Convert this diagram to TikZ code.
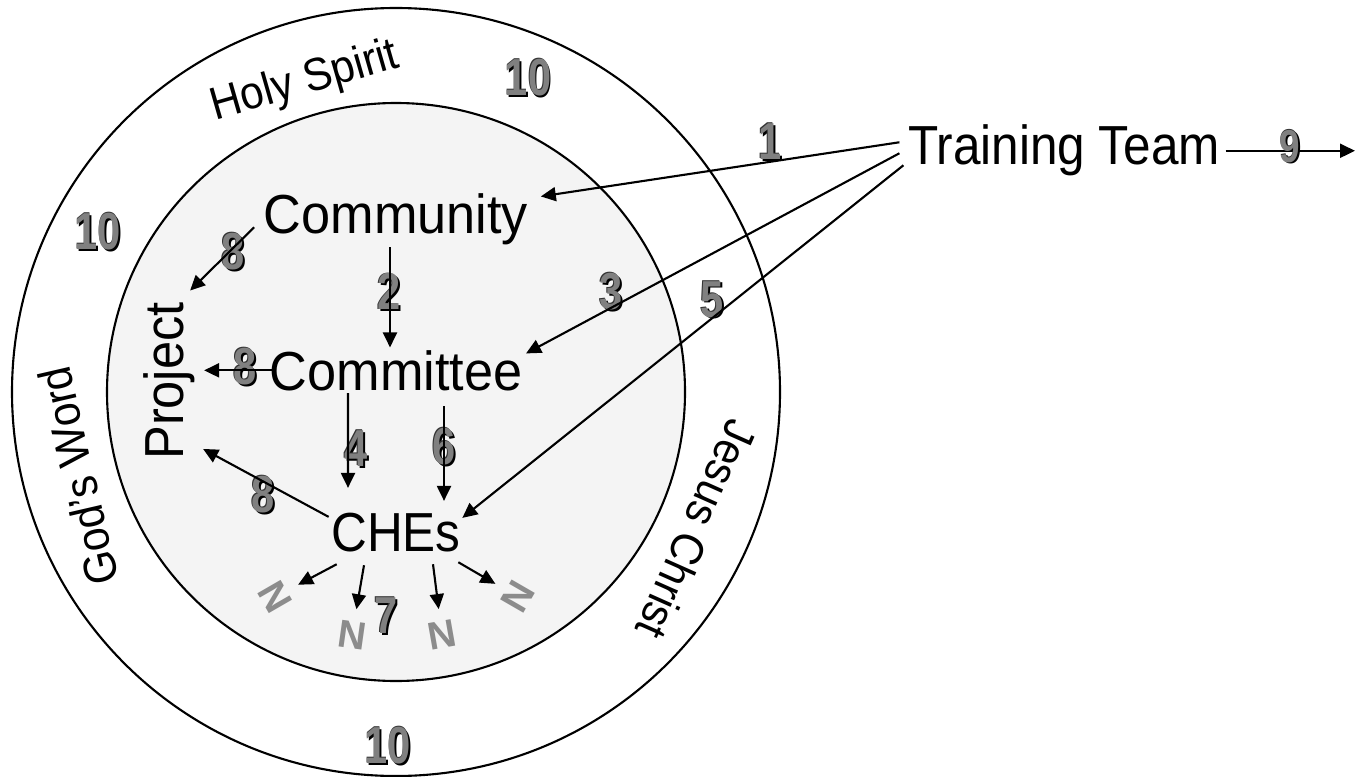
\documentclass[tikz,border=0pt]{standalone}
\usepackage{fontspec}
\setmainfont{Liberation Sans}
\usepackage{graphicx}
\usepackage{tikz}
\usetikzlibrary{arrows.meta, positioning}
\definecolor{innerfill}{HTML}{F4F4F4}
\definecolor{numgray}{HTML}{808080}
\definecolor{ngray}{HTML}{8C8C8C}
\tikzstyle{word} = [inner sep=0.02cm, font=\fontsize{15.65}{18}\selectfont]
\tikzstyle{ring} = [inner sep=0pt, font=\fontsize{13.1}{15}\selectfont]
\tikzstyle{num} = [inner sep=0pt, font=\fontsize{14.8}{17}\selectfont\bfseries]
\tikzstyle{smallnum} = [inner sep=0pt, font=\fontsize{13.1}{15}\selectfont\bfseries]
\tikzstyle{nnode} = [inner sep=0.12cm, text=ngray, font=\fontsize{11.1}{13}\selectfont\bfseries]
\tikzstyle{line} = [draw, line width=0.6pt, -{Triangle[length=0.15cm,width=0.14cm]}]
\newcommand{\stepnum}[1]{\scalebox{0.8}[1]{\rlap{\hspace{0.6pt}\raisebox{-0.45pt}{\color{black}#1}}\rlap{\hspace{-0.25pt}\raisebox{0.2pt}{\color{black!80}#1}}\color{numgray}#1}}
\newcommand{\narrowtext}[2]{\scalebox{#1}[1]{#2}}

\begin{document}
\begin{tikzpicture}
			\useasboundingbox (0,0) rectangle (13.66,7.76);
			\coordinate (c) at (3.96,3.84);
			\draw [line width=0.6pt] (c) circle (3.84);
			\draw [line width=0.6pt, fill=innerfill] (c) circle (2.89);

			\node [num] (t10a) at (5.28,6.98) {\stepnum{10}};
			\node [num] (t10b) at (0.98,5.44) {\stepnum{10}};
			\node [num] (t10c) at (3.88,0.30) {\stepnum{10}};
			\node [num] (n1) at (7.70,6.34) {\stepnum{1}};
			\node [num] (n2) at (3.89,4.84) {\stepnum{2}};
			\node [num] (n3) at (6.11,4.84) {\stepnum{3}};
			\node [num] (n4) at (3.56,3.27) {\stepnum{4}};
			\node [num] (n5) at (7.12,4.76) {\stepnum{5}};
			\node [num] (n6) at (4.44,3.29) {\stepnum{6}};
			\node [num] (n7) at (3.86,1.60) {\stepnum{7}};
			\node [num] (n8a) at (2.33,5.24) {\stepnum{8}};
			\node [num] (n8b) at (2.45,4.09) {\stepnum{8}};
			\node [num] (n8c) at (2.63,2.81) {\stepnum{8}};

			\node [ring, rotate=16] (holy) at (3.05,6.94) {\narrowtext{0.92}{Holy Spirit}};
			\node [ring, rotate=103] (gword) at (0.78,3.00) {\narrowtext{0.92}{God's Word}};
			\node [ring, rotate=-114] (jesus) at (6.97,2.46) {\narrowtext{0.92}{Jesus Christ}};

			\node [word, anchor=base] (comm) at (3.96,5.43) {\narrowtext{0.95}{Community}};
			\node [word, anchor=base] (comt) at (3.96,3.86) {\narrowtext{0.95}{Committee}};
			\node [word, anchor=base] (ches) at (3.96,2.25) {\narrowtext{0.9}{CHEs}};
			\node [word, anchor=base, rotate=90] (proj) at (1.83,3.95) {\narrowtext{0.92}{Project}};
			\node [word, anchor=base] (team) at (10.64,6.11) {\narrowtext{0.9}{Training Team}};

			\node [nnode, rotate=-60] (na) at (2.75,1.79) {N};
			\node [nnode, rotate=-8] (nb) at (3.52,1.41) {N};
			\node [nnode, rotate=10] (nc) at (4.42,1.41) {N};
			\node [nnode, rotate=60] (nd) at (5.18,1.79) {N};
			\coordinate (out) at (13.55,6.23);

			\path [line] ([shift={(-0.06,0.085)}]team.west) -- ([shift={(0.10,-0.06)}]comm.north east);
			\path [line] ([shift={(-0.06,-0.025)}]team.west) -- ([shift={(0.01,-0.06)}]comt.north east);
			\path [line] ([shift={(-0.02,-0.145)}]team.west) -- ([shift={(-0.01,-0.08)}]ches.north east);
			\path [line] ([xshift=0.03cm]team.east) -- (team.east -| out);
			\path [line] ([xshift=-0.06cm]comm.south) -- ([xshift=-0.06cm]comt.north);
			\path [line] ([xshift=-0.48cm]comt.south) -- ([shift={(-0.48,0.22)}]ches.north);
			\path [line] ([shift={(0.48,-0.13)}]comt.south) -- ([shift={(0.48,0.09)}]ches.north);
			\path [line] ([shift={(-0.07,-0.085)}]comm.west) -- ([shift={(-0.07,0.09)}]proj.south east);
			\path [line, shorten <=-0.06cm, shorten >=0.07cm] (comt.west) -- (comt.west -| proj.south);
			\path [line] ([yshift=-0.07cm]ches.north west) -- ([shift={(0.06,0.135)}]proj.south west);
			\path [line] ([shift={(0.08,-0.1)}]ches.south west) -- (na);
			\path [line] ([shift={(-0.32,-0.11)}]ches.south) -- (nb);
			\path [line] ([shift={(0.37,-0.1)}]ches.south) -- (nc);
			\path [line] ([shift={(-0.05,-0.08)}]ches.south east) -- (nd);

			\node [smallnum] (n9) at (12.90,6.29) {\stepnum{9}};
		\end{tikzpicture}
\end{document}
